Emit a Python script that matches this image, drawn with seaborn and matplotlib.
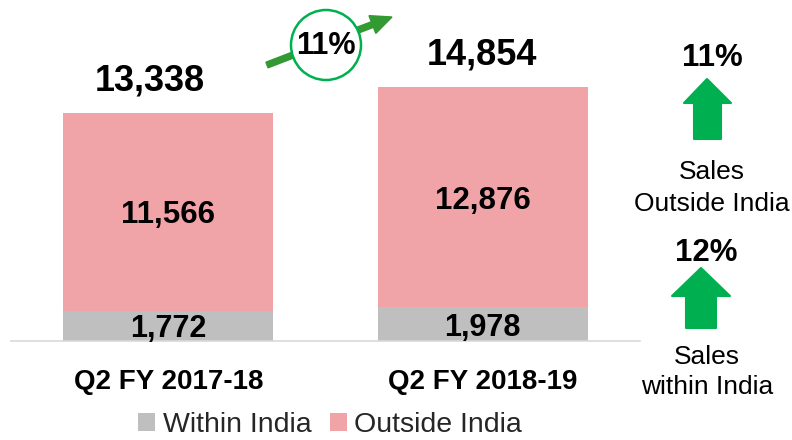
import matplotlib
matplotlib.use("Agg")
import matplotlib.pyplot as plt
import seaborn as sns
from matplotlib.patches import Patch, Circle, FancyArrow, Polygon

# ---- data ----
categories = ["Q2 FY 2017-18", "Q2 FY 2018-19"]
within_india = [1772, 1978]
outside_india = [11566, 12876]
totals = [13338, 14854]
series_names = ["Within India", "Outside India"]
growth_total = "11%"
growth_outside = "11%"
growth_within = "12%"
side_labels = ["Sales\nOutside India", "Sales\nwithin India"]

# ---- style ----
sns.set_theme(style="white")
plt.rcParams["font.family"] = ["Liberation Sans", "DejaVu Sans"]

PINK = "#F1A4A8"
GRAY = "#BFBFBF"
GREEN = "#00B050"
DARKGREEN = "#339933"

W, H = 792, 440
fig = plt.figure(figsize=(W / 100, H / 100), dpi=100)
base_px = 341
px_per_unit = 0.0171
ax = fig.add_axes([11 / W, (H - base_px) / H, 629 / W, base_px / H])

sns.barplot(x=categories, y=totals, color=PINK, saturation=1, width=0.667, ax=ax,
            linewidth=0, edgecolor="none")
sns.barplot(x=categories, y=within_india, color=GRAY, saturation=1, width=0.667, ax=ax,
            linewidth=0, edgecolor="none")

ax.set_xlim(-0.5, 1.5)
ax.set_ylim(0, base_px / px_per_unit)
ax.set_xlabel("")
ax.set_ylabel("")
ax.set_yticks([])
for s in ["top", "right", "left"]:
    ax.spines[s].set_visible(False)
ax.spines["bottom"].set_color("#D9D9D9")
ax.spines["bottom"].set_linewidth(1.2)
ax.tick_params(axis="x", length=0, pad=20, labelsize=20)
for lbl in ax.get_xticklabels():
    lbl.set_fontweight("bold")
    lbl.set_color("black")

# value labels
total_offsets = [(-13, 23), (-0.7, 23)]
for i in range(len(categories)):
    ax.annotate(f"{within_india[i]:,}", xy=(i, within_india[i] / 2), xytext=(0, -2.5),
                textcoords="offset points", ha="center", va="center",
                fontsize=22, fontweight="bold", color="black")
    ax.annotate(f"{outside_india[i]:,}", xy=(i, within_india[i] + outside_india[i] / 2),
                xytext=(0, -2.5), textcoords="offset points", ha="center", va="center",
                fontsize=22.5, fontweight="bold", color="black")
    ax.annotate(f"{totals[i]:,}", xy=(i, totals[i]), xytext=total_offsets[i],
                textcoords="offset points", ha="center", va="center",
                fontsize=26, fontweight="bold", color="black")

# legend
handles = [Patch(facecolor=GRAY, edgecolor="none"), Patch(facecolor=PINK, edgecolor="none")]
fig.legend(handles, series_names, loc="center", bbox_to_anchor=(330 / W, 1 - 425 / H),
           ncol=2, frameon=False, fontsize=20.5, handlelength=0.6, handleheight=0.6,
           handletextpad=0.25, columnspacing=0.65, borderpad=0.1)

# overlay for decorations (pixel coordinates)
ov = fig.add_axes([0, 0, 1, 1], facecolor="none")
ov.set_xlim(0, W)
ov.set_ylim(H, 0)
ov.axis("off")

ov.add_patch(FancyArrow(267, 65, 125, -48, width=6, head_width=19, head_length=21,
                        length_includes_head=True, color=DARKGREEN, zorder=2))
ov.add_patch(Circle((326, 45), 35, facecolor="white", edgecolor=GREEN, lw=1.8, zorder=3))
ov.text(326, 46, growth_total, ha="center", va="center", fontsize=22, fontweight="bold",
        color="black", zorder=4)

arrow1 = [(707, 79), (731, 103), (721, 103), (721, 139), (694, 139), (694, 103), (684, 103)]
arrow2 = [(701, 268), (730, 296), (716, 296), (716, 328), (686, 328), (686, 296), (672, 296)]
for pts in (arrow1, arrow2):
    ov.add_patch(Polygon(pts, closed=True, facecolor=GREEN, edgecolor=GREEN, lw=1.5,
                         joinstyle="round"))

ov.text(712, 58, growth_outside, ha="center", va="center", fontsize=22.5, fontweight="bold", color="black")
ov.text(712, 188, side_labels[0], ha="center", va="center", fontsize=19, color="black", linespacing=1.4)
ov.text(706, 253, growth_within, ha="center", va="center", fontsize=22.5, fontweight="bold", color="black")
ov.text(707, 372, side_labels[1], ha="center", va="center", fontsize=19, color="black", linespacing=1.35)

fig.savefig("out.png", dpi=100)
